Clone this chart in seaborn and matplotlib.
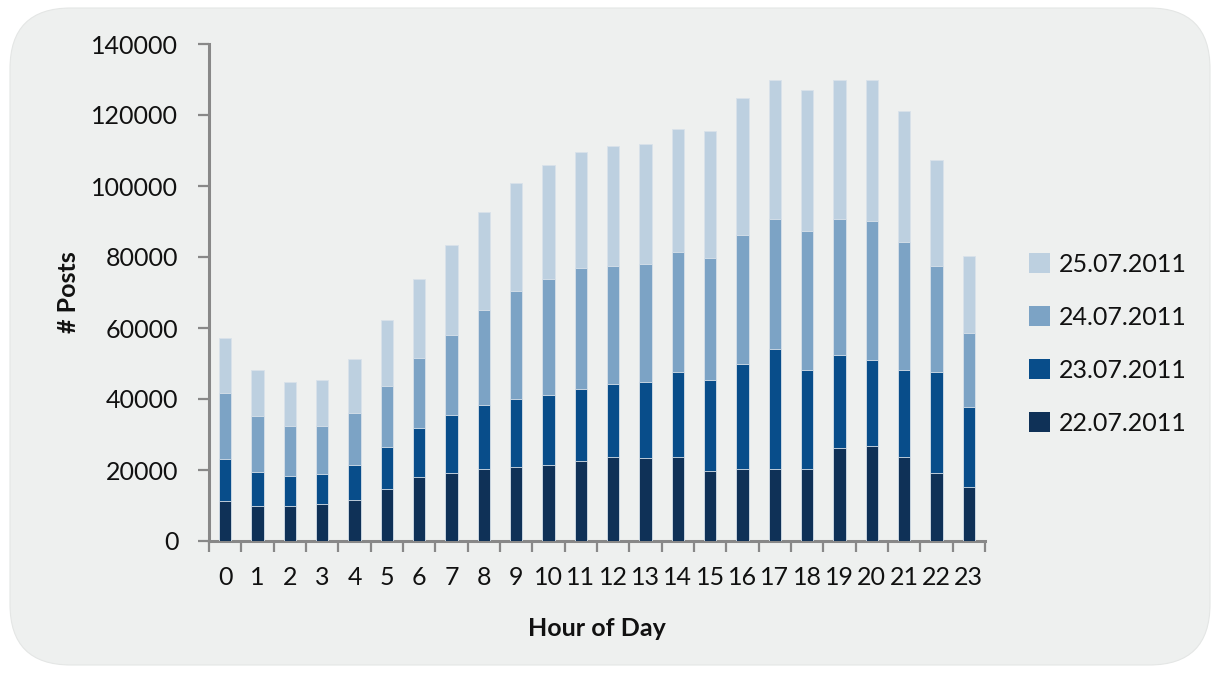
import numpy as np
import pandas as pd
import matplotlib
matplotlib.use("Agg")
import matplotlib.pyplot as plt
from matplotlib.patches import FancyBboxPatch, Patch
import seaborn as sns

hours = [str(h) for h in range(24)]
series_names = ["22.07.2011", "23.07.2011", "24.07.2011", "25.07.2011"]
s_22 = [11300, 9800, 9800, 10300, 11500, 14600, 17900, 19100, 20200, 20800, 21300, 22600,
        23800, 23300, 23800, 19600, 20200, 20200, 20200, 26100, 26700, 23800, 19100, 15100]
s_23 = [11900, 9700, 8600, 8700, 9900, 12000, 14000, 16300, 18100, 19300, 19900, 20300,
        20300, 21400, 23900, 25800, 29700, 33900, 28100, 26200, 24400, 24500, 28600, 22700]
s_24 = [18500, 15800, 14100, 13500, 14700, 17000, 19700, 22600, 26900, 30400, 32600, 33900,
        33400, 33400, 33800, 34400, 36300, 36700, 39000, 38500, 39000, 36000, 29800, 20900]
s_25 = [15400, 13000, 12300, 12900, 15200, 18700, 22300, 25300, 27400, 30300, 32200, 32800,
        33800, 33800, 34500, 35600, 38500, 39100, 39700, 39100, 39800, 36900, 29800, 21700]
colors = ["#0f3157", "#084d8a", "#7ca3c5", "#bdd0e0"]
y_ticks = [0, 20000, 40000, 60000, 80000, 100000, 120000, 140000]

sns.set_theme(style="white")
plt.rcParams["font.family"] = ["Lato", "DejaVu Sans"]

fig = plt.figure(figsize=(12.15, 6.73), dpi=100)
fig.patch.set_facecolor("white")
bg = FancyBboxPatch((10 / 1215, 8 / 673), 1200 / 1215, 657 / 673,
                    boxstyle="round,pad=0,rounding_size=0.05",
                    transform=fig.transFigure, facecolor="#eef0ef",
                    edgecolor="#e4e6e5", linewidth=0.8, zorder=-10,
                    mutation_aspect=1215 / 673)
fig.patches.append(bg)

ax = fig.add_axes([209 / 1215, (673 - 541) / 673, (985 - 209) / 1215, (541 - 44) / 673])
ax.set_facecolor("none")

series = [s_22, s_23, s_24, s_25]
cum = np.cumsum(np.array(series), axis=0)
df = pd.DataFrame({"hour": hours})
for i, name in enumerate(series_names):
    df[name] = cum[i]

# draw cumulative bars from the top series down (stacked appearance)
for i in range(3, -1, -1):
    sns.barplot(data=df, x="hour", y=series_names[i], color=colors[i], width=0.38,
                saturation=1, edgecolor="#d9e2ea", linewidth=0.6, ax=ax, zorder=3)

FS = 18
ax.set_ylim(0, 140000)
ax.set_xlim(-0.5, 23.5)
ax.set_yticks(y_ticks)
ax.set_yticklabels([str(v) for v in y_ticks], fontsize=FS, color="#111111")
ax.tick_params(axis="y", direction="out", length=8, width=1.6, color="#888888", pad=14, left=True)
ax.set_xticks(range(24))
ax.set_xticklabels(hours, fontsize=FS, color="#111111")
ax.tick_params(axis="x", length=0, pad=18)
ax.set_xticks(np.arange(-0.5, 24, 1), minor=True)
ax.tick_params(axis="x", which="minor", direction="out", length=8, width=1.6,
               color="#888888", bottom=True)

for side in ["top", "right"]:
    ax.spines[side].set_visible(False)
for side in ["left", "bottom"]:
    ax.spines[side].set_color("#888888")
    ax.spines[side].set_linewidth(2.2)

ax.set_ylabel("# Posts", fontsize=FS, fontweight="bold", color="#111111", labelpad=8)
ax.set_xlabel("Hour of Day", fontsize=FS, fontweight="bold", color="#111111", labelpad=20)

handles = [Patch(facecolor=colors[i], edgecolor="none", label=series_names[i]) for i in range(3, -1, -1)]
fig.legend(handles=handles, loc="center left", bbox_to_anchor=(1006 / 1215, (673 - 344) / 673),
           frameon=False, fontsize=FS, handlelength=0.85, handleheight=0.85,
           labelspacing=1.2, handletextpad=0.35, labelcolor="#111111")

fig.savefig("out.png", dpi=100, facecolor="white")
